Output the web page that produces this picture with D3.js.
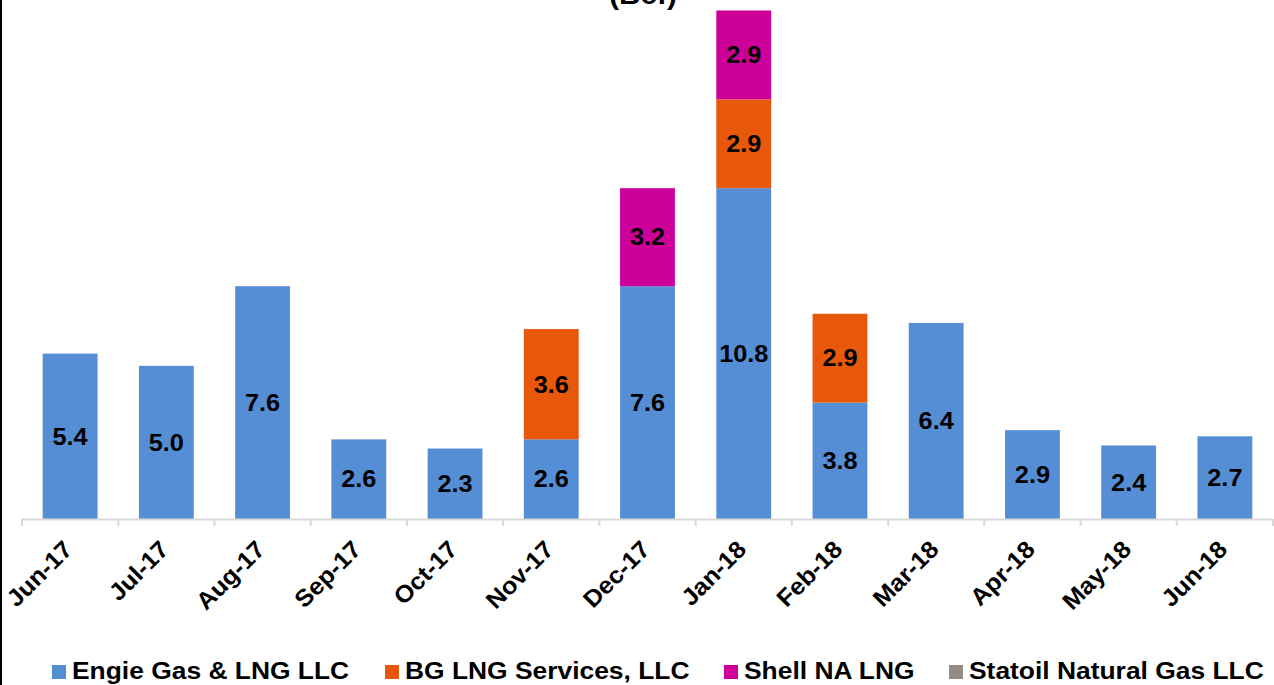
<!DOCTYPE html>
<html>
<head>
<meta charset="utf-8">
<script src="https://cdn.jsdelivr.net/npm/d3@7"></script>
<style>
  body { margin: 0; background: #fff; }
  svg { display: block; font-family: "Liberation Sans", Arial, sans-serif; }
</style>
</head>
<body>
<svg id="chart" width="1274" height="685"></svg>
<script>
// Data
const months = ["Jun-17", "Jul-17", "Aug-17", "Sep-17", "Oct-17", "Nov-17", "Dec-17",
                "Jan-18", "Feb-18", "Mar-18", "Apr-18", "May-18", "Jun-18"];
const engie   = [5.4, 5.0, 7.6, 2.6, 2.3, 2.6, 7.6, 10.8, 3.8, 6.4, 2.9, 2.4, 2.7];
const bg      = [0, 0, 0, 0, 0, 3.6, 0, 2.9, 2.9, 0, 0, 0, 0];
const shell   = [0, 0, 0, 0, 0, 0, 3.2, 2.9, 0, 0, 0, 0, 0];
const statoil = [0, 0, 0, 0, 0, 0, 0, 0, 0, 0, 0, 0, 0];
const seriesNames = ["Engie Gas & LNG LLC", "BG LNG Services, LLC", "Shell NA LNG", "Statoil Natural Gas LLC"];
const seriesColors = ["#558ed5", "#e8580b", "#cc0099", "#948a7f"];

const svg = d3.select("#chart");
const margin = { left: 22, right: 1, top: 0, bottom: 166 };
const width = 1274 - margin.left - margin.right;
const baseY = 519;
const stretch = 1.1; // text in the picture is a bit wide

// Build table for the stack
const table = months.map((m, i) => ({
    month: m, s0: engie[i], s1: bg[i], s2: shell[i], s3: statoil[i]
}));
const keys = ["s0", "s1", "s2", "s3"];
const stacked = d3.stack().keys(keys)(table);

const x = d3.scaleBand()
    .domain(months)
    .range([margin.left, margin.left + width])
    .paddingInner(0.43)
    .paddingOuter(0.215);

const y = d3.scaleLinear()
    .domain([0, 16.6])
    .range([baseY, 10.5]);

// left frame line
svg.append("line")
    .attr("x1", 1).attr("x2", 1)
    .attr("y1", 0).attr("y2", 685)
    .attr("stroke", "#000")
    .attr("stroke-width", 2);

// Title (cut off at top, as in the picture)
svg.append("text")
    .attr("transform", `translate(643,4) scale(${stretch},1)`)
    .attr("text-anchor", "middle")
    .attr("font-size", 27)
    .attr("font-weight", "bold")
    .attr("fill", "#000")
    .text("(Bcf)");

// Bars
stacked.forEach((layer, k) => {
    svg.append("g")
        .selectAll("rect")
        .data(layer.filter(d => d[1] - d[0] > 0))
        .enter()
        .append("rect")
        .attr("x", d => x(d.data.month))
        .attr("width", x.bandwidth())
        .attr("y", d => y(d[1]))
        .attr("height", d => y(d[0]) - y(d[1]))
        .attr("fill", seriesColors[k]);
});

// Value labels
stacked.forEach((layer, k) => {
    svg.append("g")
        .selectAll("text")
        .data(layer.filter(d => d[1] - d[0] > 0))
        .enter()
        .append("text")
        .attr("transform", d => `translate(${x(d.data.month) + x.bandwidth() / 2},${(y(d[0]) + y(d[1])) / 2}) scale(${stretch},1)`)
        .attr("dy", "0.36em")
        .attr("text-anchor", "middle")
        .attr("font-size", 23)
        .attr("font-weight", "bold")
        .attr("fill", "#000")
        .text(d => d3.format(".1f")(d[1] - d[0]));
});

// X axis
const step = x.step();
const axis = svg.append("g");
axis.append("line")
    .attr("x1", margin.left).attr("x2", margin.left + width)
    .attr("y1", baseY + 0.5).attr("y2", baseY + 0.5)
    .attr("stroke", "#d9d9d9")
    .attr("stroke-width", 2);
axis.selectAll(".tick")
    .data(d3.range(months.length + 1))
    .enter()
    .append("line")
    .attr("x1", i => margin.left + i * step)
    .attr("x2", i => margin.left + i * step)
    .attr("y1", baseY)
    .attr("y2", baseY + 7)
    .attr("stroke", "#d9d9d9")
    .attr("stroke-width", 2);
axis.selectAll(".lbl")
    .data(months)
    .enter()
    .append("text")
    .attr("transform", d => `translate(${x(d) + x.bandwidth() / 2 - 8},${baseY + 20}) rotate(-45) scale(1.05,1)`)
    .attr("text-anchor", "end")
    .attr("dy", "0.7em")
    .attr("font-size", 24)
    .attr("font-weight", "bold")
    .attr("fill", "#000")
    .text(d => d);

// Legend
const legendX = [52, 385, 724, 949];
const legend = svg.append("g")
    .selectAll("g")
    .data(seriesNames)
    .enter()
    .append("g")
    .attr("transform", (d, i) => `translate(${legendX[i]},665)`);
legend.append("rect")
    .attr("width", 14)
    .attr("height", 14)
    .attr("fill", (d, i) => seriesColors[i]);
legend.append("text")
    .attr("transform", `translate(20,14) scale(${stretch},1)`)
    .attr("font-size", 24)
    .attr("font-weight", "bold")
    .attr("fill", "#000")
    .text(d => d);
</script>
</body>
</html>
